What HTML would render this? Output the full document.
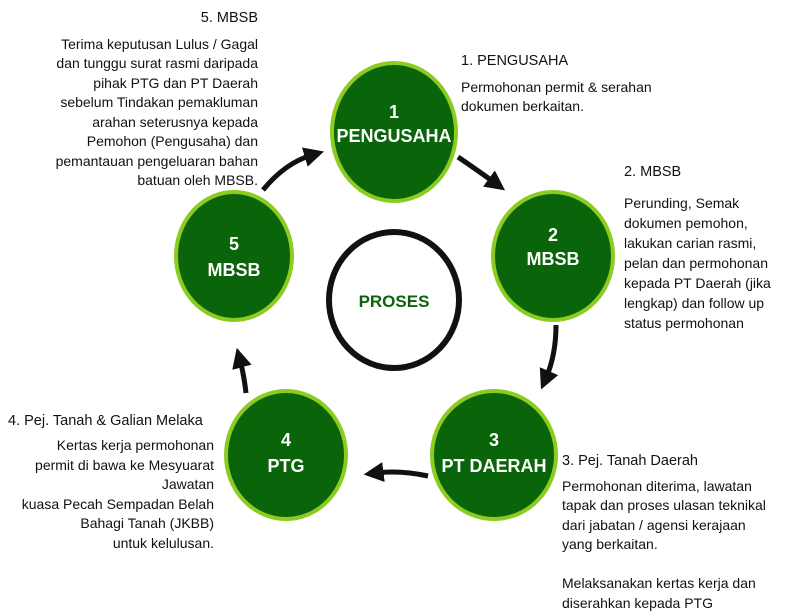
<!DOCTYPE html>
<html><head><meta charset="utf-8"><style>
html,body{margin:0;padding:0;background:#fff;}
body{width:800px;height:616px;position:relative;overflow:hidden;font-family:"Liberation Sans",sans-serif;color:#111;}
.t{position:absolute;font-size:14px;line-height:19.5px;white-space:nowrap;}
.r{text-align:right;}
.h{font-size:14.5px;}
</style></head><body>
<svg width="800" height="616" style="position:absolute;left:0;top:0">
<defs>
<marker id="a" markerWidth="4" markerHeight="4" refX="1.5" refY="2" orient="auto" markerUnits="strokeWidth">
<path d="M0,0 L4,2 L0,4 Z" fill="#111"/></marker>
</defs>
<g fill="#0a640a" stroke="#8ccc20" stroke-width="4">
<ellipse cx="394" cy="132" rx="62" ry="69"/>
<ellipse cx="553" cy="256" rx="60" ry="64"/>
<ellipse cx="494" cy="455" rx="62" ry="64"/>
<ellipse cx="286" cy="455" rx="60" ry="64"/>
<ellipse cx="234" cy="256" rx="58" ry="64"/>
</g>
<ellipse cx="394" cy="300" rx="65" ry="68" fill="none" stroke="#111" stroke-width="6"/>
<g fill="none" stroke="#111" stroke-width="5">
<path d="M458,157 Q480,172 495,183" marker-end="url(#a)"/>
<path d="M556,325 Q556,355 546,378" marker-end="url(#a)"/>
<path d="M428,476 Q400,470 376,473" marker-end="url(#a)"/>
<path d="M246,393 Q244,375 240,360" marker-end="url(#a)"/>
<path d="M263,190 Q285,163 312,155" marker-end="url(#a)"/>
</g>
<g fill="#fff" font-family="Liberation Sans,sans-serif" font-size="18" font-weight="bold" text-anchor="middle">
<text x="394" y="118">1</text><text x="394" y="142">PENGUSAHA</text>
<text x="553" y="241">2</text><text x="553" y="265">MBSB</text>
<text x="494" y="446">3</text><text x="494" y="472">PT DAERAH</text>
<text x="286" y="446">4</text><text x="286" y="472">PTG</text>
<text x="234" y="250">5</text><text x="234" y="276">MBSB</text>
</g>
<text x="394" y="307" text-anchor="middle" font-family="Liberation Sans,sans-serif" font-size="17" font-weight="bold" fill="#0a640a">PROSES</text>
</svg>

<div class="t r" style="right:542px;top:8px;"><span class="h">5. MBSB</span><br>
<div style="margin-top:6px">Terima keputusan Lulus / Gagal<br>dan tunggu surat rasmi daripada<br>pihak PTG dan PT Daerah<br>sebelum Tindakan pemakluman<br>arahan seterusnya kepada<br>Pemohon (Pengusaha) dan<br>pemantauan pengeluaran bahan<br>batuan oleh MBSB.</div></div>

<div class="t" style="left:461px;top:51px;"><span class="h">1. PENGUSAHA</span><br>
<div style="margin-top:6px">Permohonan permit &amp; serahan<br>dokumen berkaitan.</div></div>

<div class="t" style="left:624px;top:162px;"><span class="h">2. MBSB</span><br>
<div style="margin-top:10px;line-height:20px">Perunding, Semak<br>dokumen pemohon,<br>lakukan carian rasmi,<br>pelan dan permohonan<br>kepada PT Daerah (jika<br>lengkap) dan follow up<br>status permohonan</div></div>

<div class="t" style="left:8px;top:411px;"><span class="h">4. Pej. Tanah &amp; Galian Melaka</span></div>
<div class="t r" style="right:586px;top:436px;">Kertas kerja permohonan<br>permit di bawa ke Mesyuarat<br>Jawatan<br>kuasa Pecah Sempadan Belah<br>Bahagi Tanah (JKBB)<br>untuk kelulusan.</div>

<div class="t" style="left:562px;top:451px;"><span class="h">3. Pej. Tanah Daerah</span><br>
<div style="margin-top:5px">Permohonan diterima, lawatan<br>tapak dan proses ulasan teknikal<br>dari jabatan / agensi kerajaan<br>yang berkaitan.<br><br>Melaksanakan kertas kerja dan<br>diserahkan kepada PTG</div></div>
</body></html>
